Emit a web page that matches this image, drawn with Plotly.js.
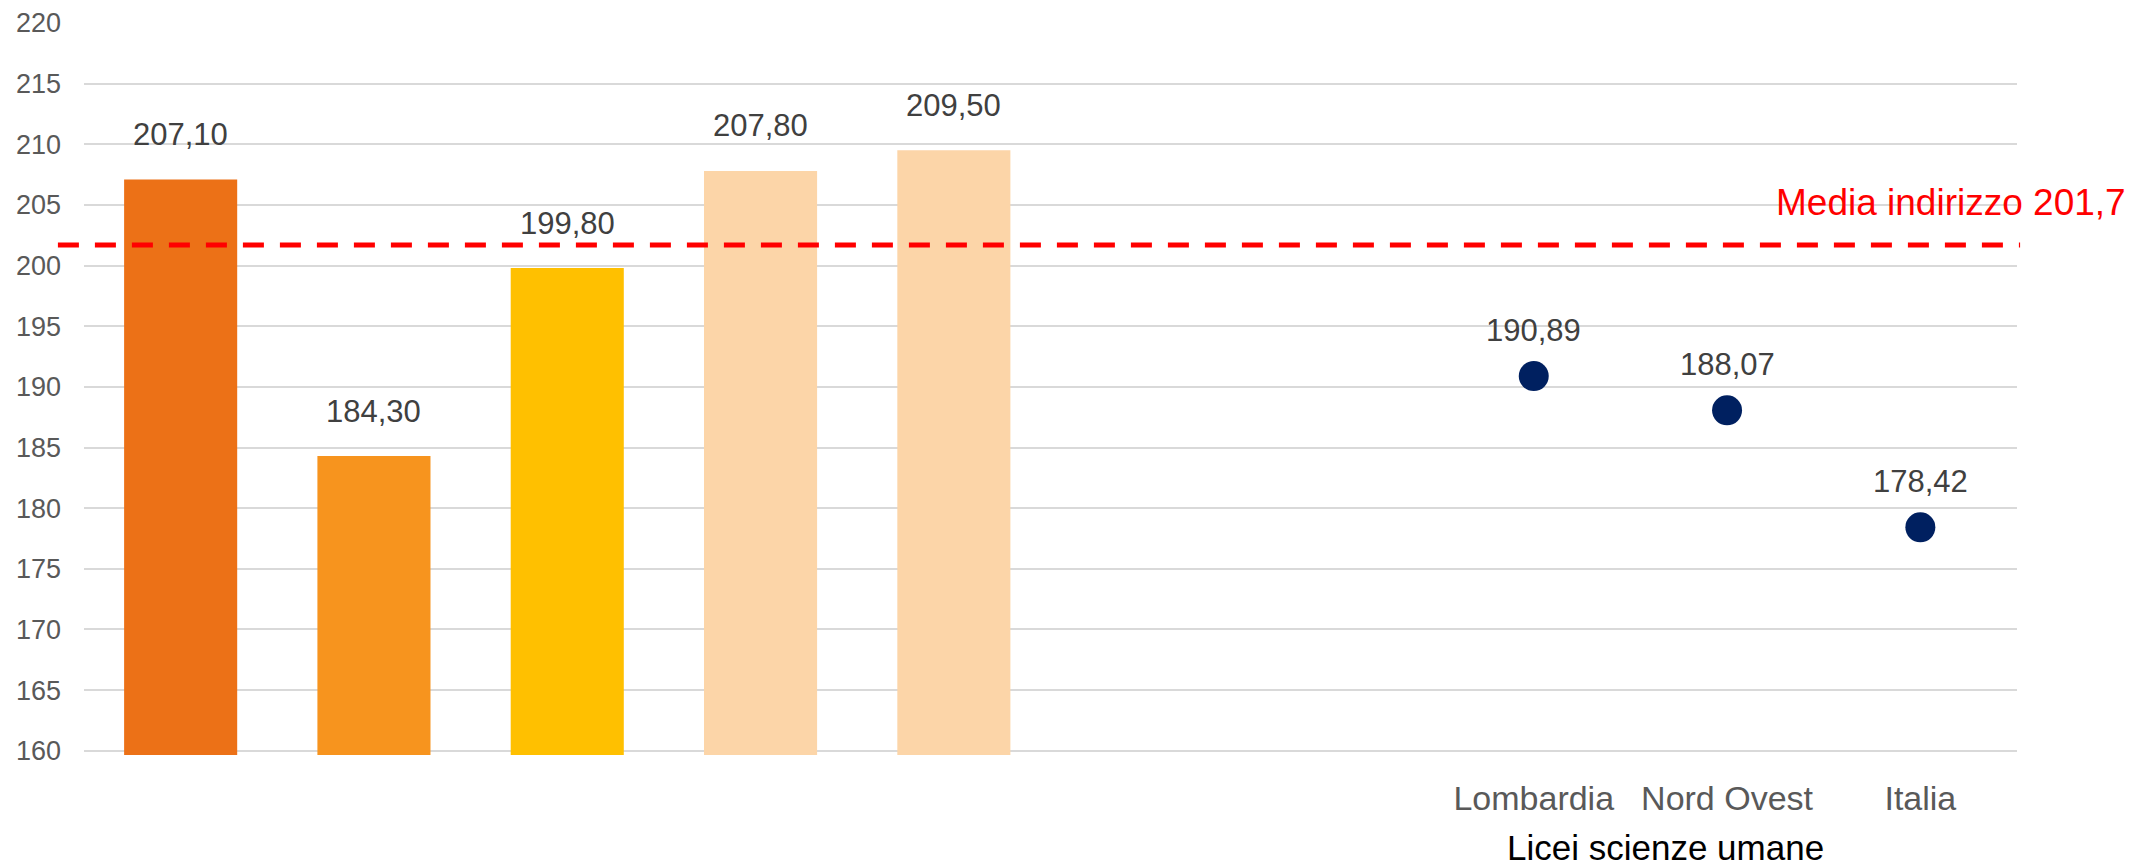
<!DOCTYPE html>
<html>
<head>
<meta charset="utf-8">
<script src="https://cdn.plot.ly/plotly-3.0.1.min.js"></script>
<style>
html, body { margin: 0; padding: 0; background: #ffffff; }
#chart { width: 2130px; height: 866px; }
</style>
</head>
<body>
<div id="chart"></div>
<script>
// Category slots (first five bars' names are blank in the source picture)
const categories = ["b1", "b2", "b3", "b4", "b5", "gap1", "gap2", "Lombardia", "Nord Ovest", "Italia"];
const tickLabels = ["", "", "", "", "", "", "", "Lombardia", "Nord Ovest", "Italia"];

const barCategories = ["b1", "b2", "b3", "b4", "b5"];
const barValues = [207.10, 184.30, 199.80, 207.80, 209.50];
const barColors = ["#EC7117", "#F7941E", "#FFC000", "#FCD5A8", "#FCD5A8"];

const dotCategories = ["Lombardia", "Nord Ovest", "Italia"];
const dotValues = [190.89, 188.07, 178.42];

const mediaValue = 201.7;
const mediaLabel = "Media indirizzo 201,7";
const xTitle = "Licei scienze umane";

const yTicks = [160, 165, 170, 175, 180, 185, 190, 195, 200, 205, 210, 215, 220];

const FONT = "Liberation Sans, Arial, sans-serif";
const fmt = v => v.toFixed(2).replace(".", ",");

const traces = [
  {
    type: "bar",
    x: barCategories,
    y: barValues,
    marker: { color: barColors, line: { width: 0 } },
    hoverinfo: "skip",
    showlegend: false
  },
  {
    type: "scatter",
    mode: "markers",
    x: dotCategories,
    y: dotValues,
    marker: { color: "#002060", size: 30 },
    hoverinfo: "skip",
    showlegend: false
  }
];

const annotations = [];
barCategories.forEach((c, i) => {
  annotations.push({
    x: c, y: barValues[i], xref: "x", yref: "y",
    text: fmt(barValues[i]), showarrow: false,
    yanchor: "middle", yshift: 45,
    font: { family: FONT, size: 31, color: "#404040" }
  });
});
dotCategories.forEach((c, i) => {
  annotations.push({
    x: c, y: dotValues[i], xref: "x", yref: "y",
    text: fmt(dotValues[i]), showarrow: false,
    yanchor: "middle", yshift: 46,
    font: { family: FONT, size: 31, color: "#404040" }
  });
});
annotations.push({
  x: 1.0574, xref: "paper", y: mediaValue, yref: "y",
  text: mediaLabel, showarrow: false,
  xanchor: "right", yanchor: "middle", yshift: 42,
  font: { family: FONT, size: 37, color: "#FF0000" }
});
annotations.push({
  x: 0.818, xref: "paper", y: 0, yref: "paper",
  text: xTitle, showarrow: false,
  xanchor: "center", yanchor: "middle", yshift: -92,
  font: { family: FONT, size: 35, color: "#000000" }
});

const layout = {
  width: 2130,
  height: 866,
  margin: { l: 84, r: 113, t: 23, b: 111, pad: 0 },
  paper_bgcolor: "#ffffff",
  plot_bgcolor: "#ffffff",
  bargap: 0.415,
  showlegend: false,
  font: { family: FONT },
  xaxis: {
    type: "category",
    categoryorder: "array",
    categoryarray: categories,
    tickvals: categories,
    ticktext: tickLabels,
    range: [-0.5, categories.length - 0.5],
    showgrid: false,
    zeroline: false,
    showline: false,
    ticks: "",
    ticklabelstandoff: 20,
    tickfont: { family: FONT, size: 34, color: "#595959" }
  },
  yaxis: {
    range: [159.65, 220],
    tickvals: yTicks,
    showgrid: true,
    gridcolor: "#D9D9D9",
    gridwidth: 2,
    zeroline: false,
    showline: false,
    ticks: "",
    ticklabelstandoff: 22,
    tickfont: { family: FONT, size: 27, color: "#595959" }
  },
  shapes: [
    {
      type: "line", xref: "paper", yref: "y",
      x0: -0.0135, x1: 1.0016, y0: mediaValue, y1: mediaValue,
      line: { color: "#FF0000", width: 5, dash: "21px,16px" },
      layer: "above"
    }
  ],
  annotations: annotations
};

Plotly.newPlot("chart", traces, layout, { staticPlot: true, displayModeBar: false });
</script>
</body>
</html>
